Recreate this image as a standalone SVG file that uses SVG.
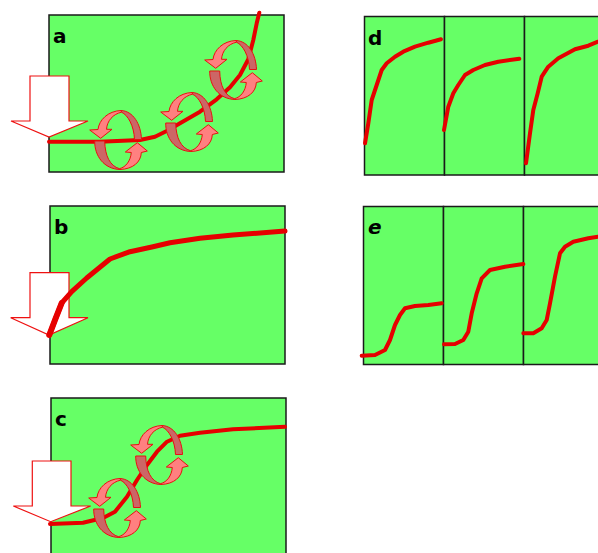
<svg xmlns="http://www.w3.org/2000/svg" xmlns:xlink="http://www.w3.org/1999/xlink" width="598" height="553" viewBox="0 0 598 553">
  <style>
    .frame { fill: #66ff66; stroke: #1a1a1a; stroke-width: 1.5; }
    .curve { fill: none; stroke: #e60000; stroke-width: 4; stroke-linejoin: round; stroke-linecap: round; }
    .push { fill: #ffffff; stroke: #ee1111; stroke-width: 1.2; stroke-linejoin: miter; }
    .front { fill: #ff8080; stroke: #e81010; stroke-width: 1; stroke-linejoin: round; }
    .back { fill: #cc6666; stroke: #e81010; stroke-width: 1; stroke-linejoin: round; }
    .lbl { font-family: "DejaVu Sans", "Liberation Sans", sans-serif; font-weight: bold; font-size: 20px; fill: #000; }
  </style>
  <defs>
    <!-- twisted ribbon loop made of two curved arrows -->
    <g id="spin">
      <path class="back" d="M33,4.5 C45,5 53,18 53.5,33.5 L46.5,33.5 C46,20 40,9 33.5,6.2 Z"/>
      <path class="back" d="M6.7,35 C6.5,50 16,63 32,63.5 L31.5,62.7 C22,60 17,50 16.7,35 Z"/>
      <path class="front" d="M24,23.3 L12.7,32.3 L1.7,24 L10,23.5 C11,14 20,5 33,4.5 L33.5,6.2 C25,8 19,15 18.5,23.3 Z"/>
      <path class="front" d="M37.3,46 L49.3,36.7 L59.3,45 L53.3,46.5 C53,56 45,63 32,63.5 L31.5,62.7 C38,61 42.5,55 43.3,46.5 Z"/>
    </g>
  </defs>

  <g id="panel-a">
    <rect class="frame" x="49" y="15" width="235" height="157"/>
    <text class="lbl" x="53" y="43">a</text>
    <polygon class="push" points="30,76 69,76 69,121 88,121 49,137 11,121 30,121"/>
    <polyline class="curve" points="49,141.7 100,141.7 140,140 155,136.7 166.7,131 180,123.3 200,111.7 216.7,99.3 230,87.3 240,75 248.3,59.3 253.3,40 256.7,23.3 259.3,12.7"/>
    <use xlink:href="#spin" x="88" y="106"/>
    <use xlink:href="#spin" x="159" y="88"/>
    <use xlink:href="#spin" x="203" y="36"/>
  </g>

  <g id="panel-b">
    <rect class="frame" x="50" y="206" width="235" height="158"/>
    <text class="lbl" x="54" y="234">b</text>
    <polygon class="push" points="30,272.7 69,272.7 69,317.7 88,317.7 49,335 10.7,317.7 30,317.7"/>
    <polyline class="curve" style="stroke-width:5" points="49.3,335 55,320 61.7,303 71.7,291.7 86.7,278 110,259 130,251.7 153,246.7 170,242.7 200,238.3 233,235 285,231"/>
    <polyline class="curve" style="stroke-width:6" points="49.3,335 55,320 61.7,303"/>
  </g>

  <g id="panel-c">
    <rect class="frame" x="51" y="398" width="235" height="160"/>
    <text class="lbl" x="55" y="426">c</text>
    <polygon class="push" points="32.3,461 71,461 71,506 90.7,506 50.7,521.7 13.3,506 32.3,506"/>
    <polyline class="curve" points="50,524 83,522.7 103,518 115,511.7 127,496.7 137,480 147,465 157,451.7 167,441.7 180,435.7 200,432.7 233,429.3 285,426.7"/>
    <use xlink:href="#spin" x="87" y="474"/>
    <use xlink:href="#spin" x="129" y="421"/>
  </g>

  <g id="panel-d">
    <rect class="frame" x="364.5" y="16.5" width="80" height="158.5"/>
    <rect class="frame" x="444.5" y="16.5" width="80" height="158.5"/>
    <rect class="frame" x="524.5" y="16.5" width="80" height="158.5"/>
    <text class="lbl" x="368" y="45">d</text>
    <polyline class="curve" points="365,143.3 368.3,123.3 371.7,100 376.7,85 381.7,70 386.7,63.3 395,56.7 403.3,51.7 415,46.7 428.3,42.7 441,39.3"/>
    <polyline class="curve" points="444,130 448.3,106.7 453.3,93.3 458.3,85 465,75 473.3,70 485,65 498.3,61.7 519.3,58.7"/>
    <polyline class="curve" points="526,163.3 530,133.3 533.3,110 537.7,93.3 541.7,76.7 548.3,66.7 558.3,58.3 575,49.3 588.3,45.7 598,41.7"/>
  </g>

  <g id="panel-e">
    <rect class="frame" x="363.5" y="206.5" width="80" height="158"/>
    <rect class="frame" x="443.5" y="206.5" width="80" height="158"/>
    <rect class="frame" x="523.5" y="206.5" width="80" height="158"/>
    <text class="lbl" x="368" y="234" font-style="italic">e</text>
    <polyline class="curve" points="361.7,355.7 375,355 385,350 390,340 395,325 400,315 405,308.3 415,306 428.3,305 441.7,303.3"/>
    <polyline class="curve" points="444,344.3 455,344 463.3,340 468.3,331.7 471.7,313.3 476.7,293.3 481.7,278.3 490,270 505,266.7 523.3,264"/>
    <polyline class="curve" points="523.3,333.3 533.3,333.3 541.7,328.3 546.7,320 550,303.3 555,276.7 560,253.3 565,246.7 573.3,241.7 588.3,238.3 598,236.7"/>
  </g>
</svg>
